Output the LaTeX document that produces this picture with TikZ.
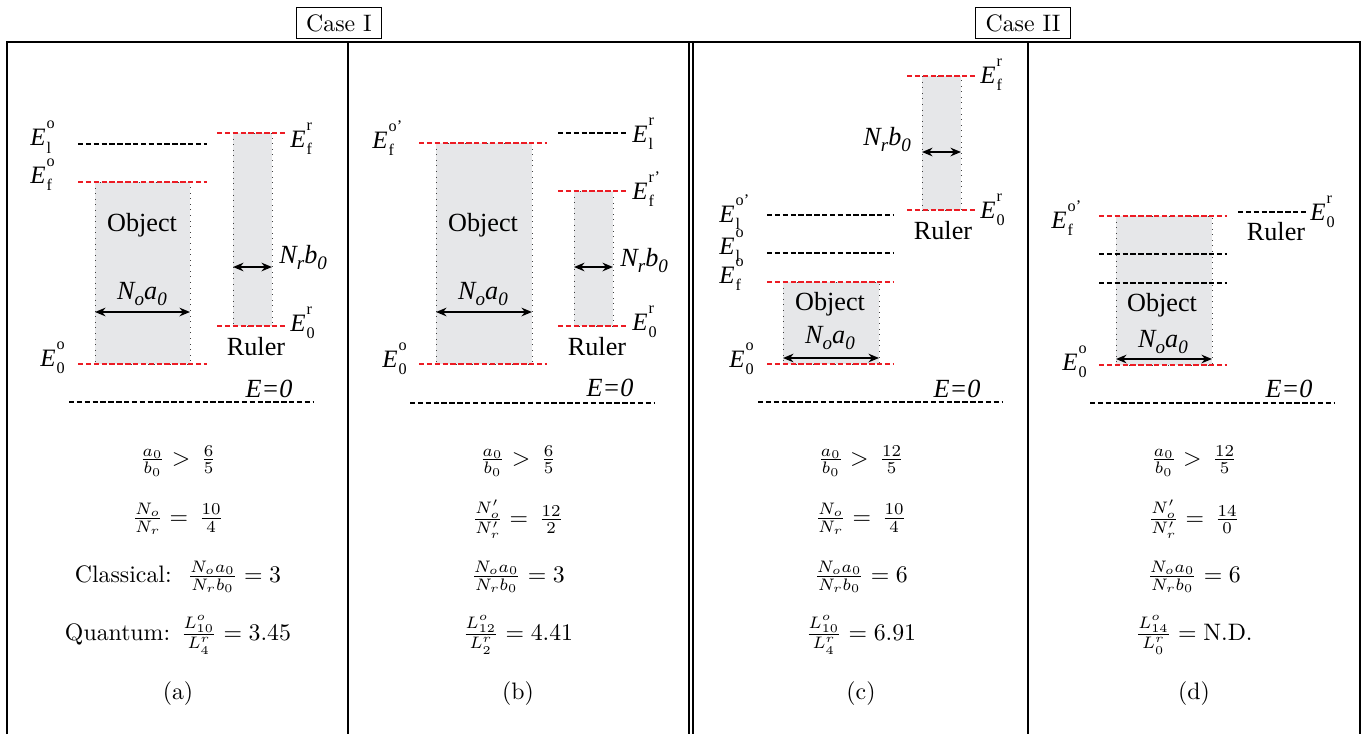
\documentclass[tikz,border=0pt]{standalone}
\usepackage{fontspec}
\newfontfamily\tms{Liberation Serif}
\usetikzlibrary{arrows.meta}
\definecolor{lvred}{RGB}{236,28,36}
\definecolor{boxgray}{RGB}{230,231,233}
\newcommand\ssz{\fontsize{6.8}{7}\selectfont}
\newcommand\EL[2]{{\tms\itshape E}\kern0.4pt\rlap{\raisebox{7pt}{\tms\ssz #1}}\raisebox{-3.2pt}{\tms\ssz #2}}
\newcommand\NL[4]{{\tms\itshape #1\raisebox{-2.6pt}{\fontsize{8}{8}\selectfont #2}#3\raisebox{-2.6pt}{\fontsize{8}{8}\selectfont #4}}}
\newcommand\EZ{{\tms\itshape E=0}}
\tikzset{
  tbl/.style={line width=0.65pt},
  lvblk/.style={line width=0.85pt, dash pattern=on 2.3pt off 1pt, black},
  lvrd/.style={line width=0.85pt, dash pattern=on 2.3pt off 1pt, lvred},
  boxfill/.style={fill=boxgray},
  boxedge/.style={draw=black!75, line width=0.35pt, dotted},
  dimarrow/.style={line width=0.9pt, {Stealth[length=4.4pt,width=3.6pt]}-{Stealth[length=4.4pt,width=3.6pt]}},
  elab/.style={inner sep=0pt, anchor=base west, font=\fontsize{10.5}{12}\selectfont},
  txt/.style={inner sep=0pt, anchor=base, font=\tms\fontsize{11}{13}\selectfont},
  nlab/.style={inner sep=0pt, anchor=base, font=\fontsize{11}{13}\selectfont},
  nlabw/.style={inner sep=0pt, anchor=base west, font=\fontsize{11}{13}\selectfont},
  fml/.style={inner sep=0pt, anchor=center},
  casebox/.style={draw, line width=0.5pt, inner xsep=4.2pt, inner ysep=3pt},
}
\begin{document}
\begin{tikzpicture}[x=0.42pt,y=-0.42pt]
\useasboundingbox (0,0) rectangle (1370,734);
% ---------- table ----------
\draw[tbl] (7,734) -- (7,42) -- (1360,42) -- (1360,734);
\draw[tbl] (348,42) -- (348,734);
\draw[tbl] (689,42) -- (689,734);
\draw[tbl] (693,42) -- (693,734);
\draw[tbl] (1028,42) -- (1028,734);
\node[casebox] (case1) at (339,23) {Case I};
\node[casebox] (case2) at (1023,23) {Case II};

% ---------- panel (a) ----------
\fill[boxfill] (95,182) rectangle (190,364);
\draw[boxedge] (95,182) rectangle (190,364);
\fill[boxfill] (233,133) rectangle (272,326);
\draw[boxedge] (233,133) rectangle (272,326);
\draw[lvblk] (78,144) -- (207,144);
\draw[lvrd] (78,182) -- (207,182);
\draw[lvrd] (78,364) -- (207,364);
\draw[lvrd] (217,133) -- (287,133);
\draw[lvrd] (217,326) -- (287,326);
\draw[lvblk] (69,402) -- (313,402);
\coordinate (aoL) at (95,312); \coordinate (aoR) at (190,312);
\coordinate (arL) at (233,267); \coordinate (arR) at (272,267);
\draw[dimarrow] (aoL) -- (aoR);
\draw[dimarrow] (arL) -- (arR);
\node[elab] (aE1) at (30,145.5) {\EL{o}{l}};
\node[elab] (aE2) at (30,183) {\EL{o}{f}};
\node[elab] (aE3) at (40,366) {\EL{o}{0}};
\node[elab] (aE4) at (290,147) {\EL{r}{f}};
\node[elab] (aE5) at (290,331) {\EL{r}{0}};
\node[txt] (aobj) at (142,231) {Object};
\node[txt] (arul) at (256,355) {Ruler};
\node[nlab] (aNo) at (142,299) {\NL{N}{o}{a}{0}};
\node[nlabw] (aNr) at (279,263) {\NL{N}{r}{b}{0}};
\node[nlab] (aEz) at (269,397) {\EZ};
\node[fml] (af1) at (178,461) {$\frac{a_0}{b_0} > \,\frac{6}{5}$};
\node[fml] (af2) at (178,519) {$\frac{N_o}{N_r} = \,\frac{10}{4}$};
\node[fml] (af3) at (178,577) {Classical:\ \ $\frac{N_o a_0}{N_r b_0} = 3$};
\node[fml] (af4) at (178,635) {Quantum: $\frac{L^o_{10}}{L^r_4} = 3.45$};
\node[fml] (af5) at (178,694) {(a)};

% ---------- panel (b) ----------
\fill[boxfill] (436,143) rectangle (532,364);
\draw[boxedge] (436,143) rectangle (532,364);
\fill[boxfill] (574,191) rectangle (613,326);
\draw[boxedge] (574,191) rectangle (613,326);
\draw[lvrd] (419,143) -- (547,143);
\draw[lvrd] (419,364) -- (547,364);
\draw[lvblk] (558,133) -- (628,133);
\draw[lvrd] (558,191) -- (628,191);
\draw[lvrd] (558,326) -- (628,326);
\draw[lvblk] (410,403) -- (655,403);
\coordinate (boL) at (436,312); \coordinate (boR) at (532,312);
\coordinate (brL) at (574,267); \coordinate (brR) at (613,267);
\draw[dimarrow] (boL) -- (boR);
\draw[dimarrow] (brL) -- (brR);
\node[elab] (bE1) at (372,148) {\EL{o’}{f}};
\node[elab] (bE2) at (382,367) {\EL{o}{0}};
\node[elab] (bE3) at (632,142) {\EL{r}{l}};
\node[elab] (bE4) at (632,199) {\EL{r’}{f}};
\node[elab] (bE5) at (632,330) {\EL{r}{0}};
\node[txt] (bobj) at (483,231) {Object};
\node[txt] (brul) at (597,355) {Ruler};
\node[nlab] (bNo) at (483,299) {\NL{N}{o}{a}{0}};
\node[nlabw] (bNr) at (620,266) {\NL{N}{r}{b}{0}};
\node[nlab] (bEz) at (610,396) {\EZ};
\node[fml] (bf1) at (518,461) {$\frac{a_0}{b_0} > \,\frac{6}{5}$};
\node[fml] (bf2) at (518,519) {$\frac{N'_o}{N'_r} = \,\frac{12}{2}$};
\node[fml] (bf3) at (518,577) {$\frac{N_o a_0}{N_r b_0} = 3$};
\node[fml] (bf4) at (518,635) {$\frac{L^o_{12}}{L^r_2} = 4.41$};
\node[fml] (bf5) at (518,694) {(b)};

% ---------- panel (c) ----------
\fill[boxfill] (922,76) rectangle (961,210);
\draw[boxedge] (922,76) rectangle (961,210);
\fill[boxfill] (783,282) rectangle (879,364);
\draw[boxedge] (783,282) rectangle (879,364);
\draw[lvrd] (907,76) -- (976,76);
\draw[lvrd] (907,210) -- (976,210);
\draw[lvblk] (767,215) -- (893,215);
\draw[lvblk] (767,253) -- (893,253);
\draw[lvrd] (767,282) -- (893,282);
\draw[lvrd] (767,364) -- (893,364);
\draw[lvblk] (758,402) -- (1003,402);
\coordinate (coL) at (783,358); \coordinate (coR) at (879,358);
\coordinate (crL) at (922,152); \coordinate (crR) at (961,152);
\draw[dimarrow] (coL) -- (coR);
\draw[dimarrow] (crL) -- (crR);
\node[elab] (cE1) at (980,83) {\EL{r}{f}};
\node[elab] (cE2) at (980,218) {\EL{r}{0}};
\node[elab] (cE3) at (719,222) {\EL{o’}{l}};
\node[elab] (cE4) at (719,254) {\EL{o}{l}};
\node[elab] (cE5) at (719,283) {\EL{o}{f}};
\node[elab] (cE6) at (729,367) {\EL{o}{0}};
\node[txt] (cobj) at (830,310) {Object};
\node[txt] (crul) at (943,239) {Ruler};
\node[nlab] (cNo) at (830,343) {\NL{N}{o}{a}{0}};
\node[nlabw] (cNr) at (863,145) {\NL{N}{r}{b}{0}};
\node[nlab] (cEz) at (957,397) {\EZ};
\node[fml] (cf1) at (861,461) {$\frac{a_0}{b_0} > \,\frac{12}{5}$};
\node[fml] (cf2) at (861,519) {$\frac{N_o}{N_r} = \,\frac{10}{4}$};
\node[fml] (cf3) at (861,577) {$\frac{N_o a_0}{N_r b_0} = 6$};
\node[fml] (cf4) at (861,635) {$\frac{L^o_{10}}{L^r_4} = 6.91$};
\node[fml] (cf5) at (861,694) {(c)};

% ---------- panel (d) ----------
\fill[boxfill] (1116,216) rectangle (1212,365);
\draw[boxedge] (1116,216) rectangle (1212,365);
\draw[lvrd] (1099,216) -- (1227,216);
\draw[lvrd] (1099,365) -- (1227,365);
\draw[lvblk] (1099,254) -- (1227,254);
\draw[lvblk] (1099,283) -- (1227,283);
\draw[lvblk] (1238,212) -- (1308,212);
\draw[lvblk] (1090,403) -- (1335,403);
\coordinate (doL) at (1116,359); \coordinate (doR) at (1212,359);
\draw[dimarrow] (doL) -- (doR);
\node[elab] (dE1) at (1051,228) {\EL{o’}{f}};
\node[elab] (dE2) at (1062,370) {\EL{o}{0}};
\node[elab] (dE3) at (1310,220) {\EL{r}{0}};
\node[txt] (dobj) at (1162,311) {Object};
\node[txt] (drul) at (1276,240) {Ruler};
\node[nlab] (dNo) at (1163,347) {\NL{N}{o}{a}{0}};
\node[nlab] (dEz) at (1289,397) {\EZ};
\node[fml] (df1) at (1194,461) {$\frac{a_0}{b_0} > \,\frac{12}{5}$};
\node[fml] (df2) at (1194,519) {$\frac{N'_o}{N'_r} = \,\frac{14}{0}$};
\node[fml] (df3) at (1194,577) {$\frac{N_o a_0}{N_r b_0} = 6$};
\node[fml] (df4) at (1194,635) {$\frac{L^o_{14}}{L^r_0} = \mathrm{N.D.}$};
\node[fml] (df5) at (1194,694) {(d)};
\end{tikzpicture}
\end{document}
